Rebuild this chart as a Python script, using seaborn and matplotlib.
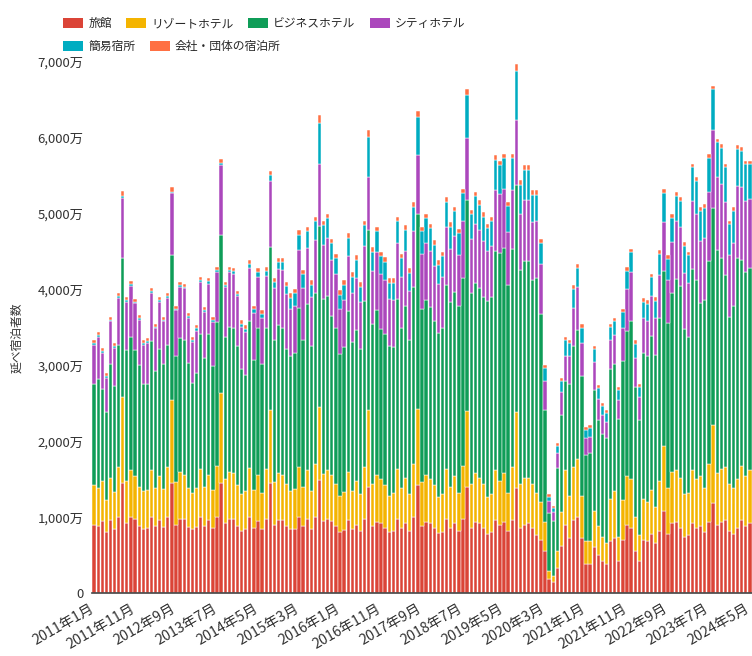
import pandas as pd
import matplotlib
matplotlib.use("Agg")
import matplotlib.pyplot as plt
import matplotlib.transforms as mtransforms
from matplotlib.patches import Patch
from matplotlib.ticker import FuncFormatter
import seaborn as sns

# 延べ宿泊者数（万人泊）, 2011年1月〜2024年5月, 施設タイプ別
months = pd.period_range("2011-01", "2024-05", freq="M")

ryokan = [
    900, 880, 950, 800, 960, 850, 1000, 1450, 920, 1000, 980, 880,      # 2011
    850, 860, 1000, 880, 960, 870, 1000, 1450, 900, 980, 980, 870,      # 2012
    840, 870, 1000, 880, 960, 860, 1000, 1450, 920, 980, 980, 880,      # 2013
    820, 840, 1000, 860, 950, 840, 980, 1450, 900, 960, 960, 880,       # 2014
    840, 850, 1000, 880, 980, 850, 1000, 1490, 950, 980, 950, 880,      # 2015
    800, 830, 960, 850, 900, 820, 980, 1400, 880, 940, 920, 860,        # 2016
    800, 820, 980, 860, 920, 820, 1000, 1420, 880, 930, 920, 860,       # 2017
    790, 810, 980, 860, 920, 820, 980, 1400, 860, 940, 920, 860,        # 2018
    780, 800, 960, 900, 940, 820, 960, 1380, 860, 900, 920, 860,        # 2019
    760, 700, 550, 180, 140, 330, 620, 900, 720, 960, 1000, 720,        # 2020
    380, 380, 600, 500, 420, 380, 680, 720, 420, 700, 900, 860,         # 2021
    560, 420, 700, 680, 780, 660, 820, 1080, 780, 920, 940, 860,        # 2022
    740, 760, 920, 860, 880, 800, 940, 1190, 900, 940, 960, 820,        # 2023
    780, 860, 960, 880, 920,                                            # 2024
]
resort = [
    520, 500, 520, 420, 560, 480, 660, 1140, 560, 620, 560, 520,
    500, 500, 620, 500, 580, 500, 660, 1100, 560, 620, 580, 520,
    480, 520, 640, 520, 600, 500, 680, 1180, 580, 620, 600, 540,
    480, 500, 650, 500, 600, 480, 660, 960, 560, 620, 600, 560,
    500, 520, 660, 520, 640, 500, 700, 960, 620, 640, 600, 560,
    480, 500, 640, 500, 580, 480, 680, 1010, 560, 620, 580, 560,
    480, 500, 660, 520, 600, 480, 700, 1000, 580, 620, 580, 560,
    480, 500, 660, 540, 620, 500, 700, 1000, 580, 640, 600, 580,
    480, 500, 660, 580, 640, 500, 700, 1000, 580, 620, 600, 580,
    560, 500, 380, 110, 80, 220, 450, 720, 560, 700, 760, 560,
    300, 300, 480, 380, 320, 280, 560, 620, 320, 520, 640, 640,
    440, 340, 540, 520, 580, 480, 660, 860, 600, 680, 680, 660,
    560, 560, 700, 640, 660, 580, 760, 1020, 680, 700, 700, 620,
    600, 640, 720, 660, 700,
]
business = [
    1340, 1440, 1220, 1170, 1500, 1400, 1610, 1830, 1720, 1750, 1660, 1600,
    1400, 1400, 1700, 1550, 1680, 1650, 1610, 1900, 1670, 1760, 1780, 1640,
    1450, 1510, 1780, 1700, 1860, 1630, 1890, 2090, 1870, 1910, 1910, 1830,
    1650, 1540, 1940, 1710, 1940, 1700, 1860, 2150, 1880, 1950, 1940, 1780,
    1780, 1790, 2100, 1940, 2190, 1910, 2250, 2390, 2300, 2300, 2100, 2050,
    1870, 1910, 2120, 1960, 1990, 1920, 2190, 2370, 2100, 2170, 1980, 1990,
    1970, 1920, 2240, 2120, 2270, 2040, 2330, 2570, 2290, 2310, 2270, 2170,
    2160, 2190, 2420, 2430, 2430, 2460, 2470, 2780, 2510, 2510, 2500, 2460,
    2590, 2600, 2890, 3000, 2970, 2740, 2870, 3000, 2820, 2860, 2860, 2690,
    2830, 2480, 1480, 760, 730, 1100, 1280, 1170, 1480, 1600, 1710, 1580,
    1140, 1160, 1600, 1400, 1360, 1380, 1710, 1680, 1550, 1840, 1910, 2090,
    1720, 1520, 1920, 1930, 2030, 2000, 2150, 2310, 2180, 2350, 2520, 2530,
    2180, 2050, 2650, 2620, 2280, 2480, 2680, 2860, 2940, 2770, 2530, 2200,
    2400, 2910, 2710, 2690, 2670,
]
city = [
    510, 560, 480, 450, 560, 500, 620, 790, 640, 680, 620, 600,
    520, 540, 640, 560, 620, 560, 620, 820, 600, 680, 680, 600,
    540, 560, 680, 600, 660, 580, 660, 920, 660, 720, 720, 660,
    560, 560, 700, 620, 680, 600, 680, 870, 680, 740, 760, 720,
    620, 620, 760, 680, 740, 640, 700, 810, 720, 760, 740, 720,
    600, 620, 720, 640, 680, 620, 720, 710, 700, 760, 720, 720,
    620, 620, 740, 660, 720, 640, 740, 780, 720, 760, 740, 720,
    640, 660, 760, 700, 740, 680, 760, 820, 720, 780, 760, 740,
    660, 680, 800, 780, 780, 700, 780, 850, 740, 800, 800, 760,
    760, 660, 380, 160, 120, 200, 300, 340, 360, 500, 560, 440,
    220, 220, 360, 280, 240, 220, 380, 380, 260, 440, 560, 640,
    380, 300, 460, 460, 520, 480, 560, 640, 560, 680, 760, 780,
    740, 720, 900, 880, 820, 820, 900, 1040, 960, 980, 960, 820,
    840, 960, 960, 940, 900,
]
simple = [
    20, 20, 20, 20, 20, 20, 20, 30, 20, 20, 20, 20,
    20, 20, 20, 20, 20, 20, 20, 20, 20, 20, 20, 20,
    30, 30, 30, 30, 30, 30, 30, 30, 30, 30, 30, 30,
    40, 40, 50, 50, 60, 60, 70, 80, 80, 90, 100, 110,
    150, 170, 200, 180, 220, 160, 250, 550, 260, 260, 220, 200,
    180, 200, 240, 220, 240, 200, 280, 520, 260, 280, 240, 240,
    220, 230, 280, 250, 280, 240, 320, 500, 300, 320, 300, 280,
    260, 280, 340, 300, 320, 280, 360, 560, 320, 360, 340, 320,
    300, 320, 400, 380, 400, 340, 420, 650, 380, 400, 400, 360,
    340, 280, 170, 60, 50, 90, 140, 200, 180, 250, 260, 200,
    110, 110, 170, 140, 120, 110, 180, 180, 130, 200, 240, 260,
    180, 140, 220, 220, 250, 230, 280, 380, 280, 320, 340, 340,
    360, 360, 440, 430, 400, 400, 460, 540, 460, 480, 460, 400,
    420, 480, 480, 480, 460,
]
company = [
    40, 40, 40, 40, 40, 40, 40, 60, 40, 40, 40, 40,
    40, 40, 40, 40, 40, 40, 40, 60, 40, 40, 40, 40,
    40, 40, 40, 40, 40, 40, 40, 50, 40, 40, 40, 40,
    50, 50, 50, 50, 50, 50, 50, 50, 50, 50, 50, 50,
    60, 60, 60, 60, 60, 60, 60, 100, 60, 60, 60, 60,
    60, 60, 60, 60, 60, 60, 60, 90, 60, 60, 60, 60,
    60, 60, 60, 60, 60, 60, 60, 90, 60, 60, 60, 60,
    60, 60, 60, 60, 60, 60, 60, 90, 60, 60, 60, 60,
    60, 60, 60, 60, 60, 60, 60, 100, 60, 60, 60, 60,
    60, 50, 40, 30, 30, 40, 40, 40, 40, 50, 50, 50,
    40, 40, 40, 40, 40, 40, 40, 40, 40, 50, 50, 50,
    50, 40, 50, 50, 50, 50, 50, 60, 50, 50, 50, 50,
    50, 50, 50, 50, 50, 50, 50, 40, 50, 50, 50, 50,
    50, 50, 50, 50, 50,
]

types = ["旅館", "リゾートホテル", "ビジネスホテル", "シティホテル", "簡易宿所", "会社・団体の宿泊所"]
colors = ["#DB4437", "#F4B400", "#0F9D58", "#AB47BC", "#00ACC1", "#FF7043"]
series = [ryokan, resort, business, city, simple, company]

rows = []
for t, vals in zip(types, series):
    for i, v in enumerate(vals):
        rows.append((i, t, v))
df = pd.DataFrame(rows, columns=["idx", "type", "value"])

sns.set_theme(style="white")
plt.rcParams["font.family"] = ["Noto Sans CJK JP", "DejaVu Sans"]

fig = plt.figure(figsize=(7.52, 6.56), dpi=100)
ax = fig.add_axes([92 / 752, 63 / 656, 660 / 752, 531 / 656])

# histplot stacks the first hue level on top, so give the order top -> bottom
sns.histplot(
    data=df, x="idx", weights="value", hue="type",
    hue_order=types[::-1], palette=dict(zip(types, colors)),
    multiple="stack", discrete=True, shrink=0.8,
    edgecolor="white", linewidth=0.35, alpha=1, legend=False, ax=ax,
)

ax.set_xlim(-0.5, len(months) - 0.5)
ax.set_ylim(0, 7000)
ax.set_yticks(range(0, 7001, 1000))
ax.yaxis.set_major_formatter(FuncFormatter(lambda v, p: "0" if v == 0 else f"{v:,.0f}万"))
tick_idx = list(range(0, len(months), 10))
ax.set_xticks(tick_idx)
ax.set_xticklabels([f"{months[i].year}年{months[i].month}月" for i in tick_idx],
                   rotation=30, ha="right", rotation_mode="anchor")
ax.tick_params(axis="x", length=0, pad=6, labelsize=10.3, colors="#333333")
ax.tick_params(axis="y", length=0, pad=6, labelsize=9.5, colors="#333333")
# pull the slanted month labels a little to the left of their ticks
shift = mtransforms.ScaledTranslation(-5 / 100, 0, fig.dpi_scale_trans)
for lab in ax.get_xticklabels():
    lab.set_transform(lab.get_transform() + shift)
ax.set_xlabel("")
ax.set_ylabel("延べ宿泊者数", fontsize=8.5, color="#333333")
ax.yaxis.set_label_coords(-0.104, 0.48)

for s in ["top", "right", "left"]:
    ax.spines[s].set_visible(False)
ax.spines["bottom"].set_color("#444444")
ax.spines["bottom"].set_linewidth(1.2)
ax.grid(False)

handles = [Patch(facecolor=c, edgecolor="none") for c in colors]
leg_kw = dict(loc="upper left", frameon=False, fontsize=8.5, borderpad=0, borderaxespad=0,
              handlelength=1.7, handleheight=1.0, handletextpad=0.45, columnspacing=1.2)
fig.legend(handles[:4], types[:4], ncol=4, bbox_to_anchor=(63 / 752, 1 - 17 / 656), **leg_kw)
fig.legend(handles[4:], types[4:], ncol=2, bbox_to_anchor=(63 / 752, 1 - 40 / 656), **leg_kw)

fig.savefig("out.png", dpi=100)
